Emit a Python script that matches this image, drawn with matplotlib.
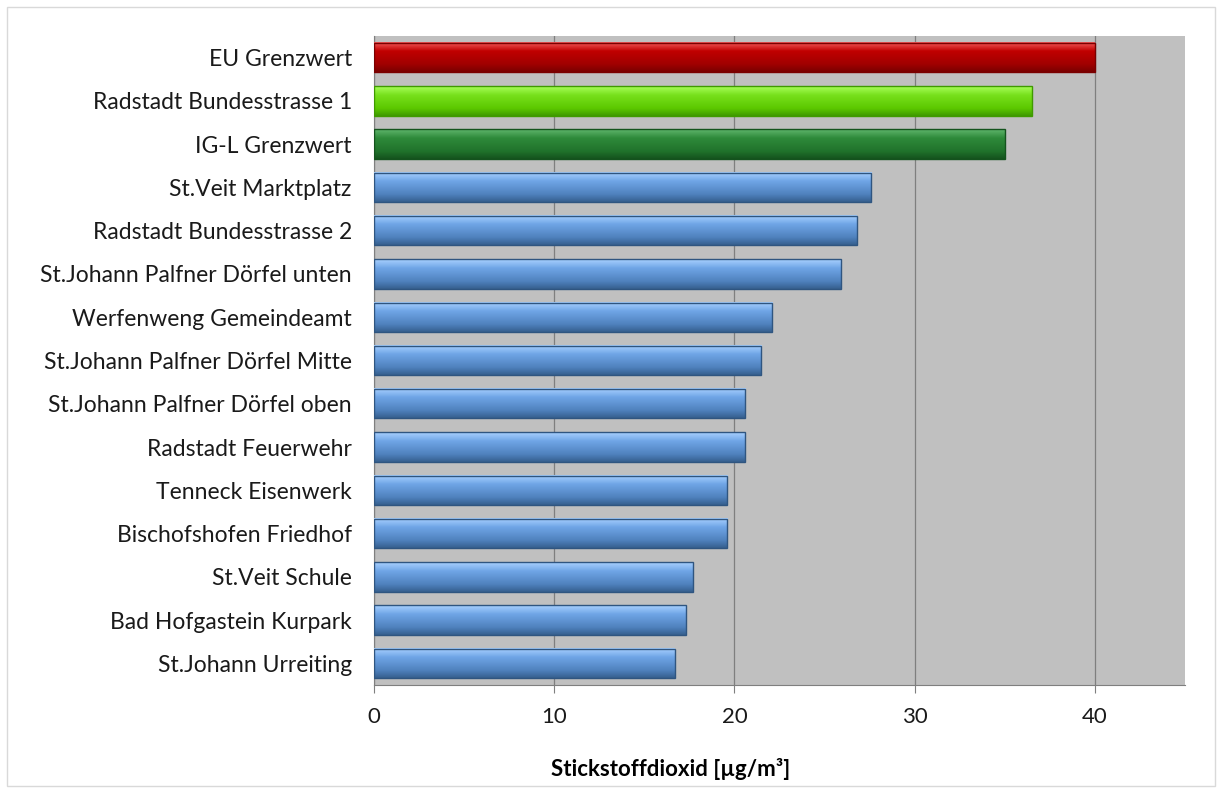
import numpy as np
import matplotlib.pyplot as plt
from matplotlib.colors import LinearSegmentedColormap
from matplotlib.patches import Rectangle

stations = [
    'EU Grenzwert', 'Radstadt Bundesstrasse 1', 'IG-L Grenzwert', 'St.Veit Marktplatz',
    'Radstadt Bundesstrasse 2', 'St.Johann Palfner Dörfel unten', 'Werfenweng Gemeindeamt',
    'St.Johann Palfner Dörfel Mitte', 'St.Johann Palfner Dörfel oben', 'Radstadt Feuerwehr',
    'Tenneck Eisenwerk', 'Bischofshofen Friedhof', 'St.Veit Schule', 'Bad Hofgastein Kurpark',
    'St.Johann Urreiting',
]
no2 = [40.0, 36.5, 35.0, 27.6, 26.8, 25.9, 22.1, 21.5, 20.6, 20.6, 19.6, 19.6, 17.7, 17.3, 16.7]
kinds = ['eu', 'station_hi', 'igl'] + ['station'] * 12

# light top edge, base, darker bottom
shades = {
    'eu': ['#f25a5a', '#c00000', '#a00000', '#7a0000'],
    'station_hi': ['#a8ff5a', '#77e01c', '#5cc800', '#3f9a00'],
    'igl': ['#5fb56c', '#2e8a3a', '#20722b', '#14531d'],
    'station': ['#a9d1ff', '#6fa5e6', '#4f81bd', '#36608f'],
}
edges = {'eu': '#7a0000', 'station_hi': '#3f9a00', 'igl': '#14531d', 'station': '#2f5580'}

plt.rcParams['font.family'] = ['Lato', 'DejaVu Sans']

fig = plt.figure(figsize=(12.25, 7.91), dpi=100)
ax = fig.add_axes([374 / 1225, 1 - 685 / 791, (1185 - 374) / 1225, (685 - 36) / 791])

ypos = np.arange(len(stations))
h = 0.68
ax.set_xlim(0, 45)
ax.set_ylim(len(stations) - 0.5, -0.5)
ax.set_facecolor('#c0c0c0')

grad = np.linspace(0, 1, 64).reshape(-1, 1)
for y, v, k in zip(ypos, no2, kinds):
    s = shades[k]
    cmap = LinearSegmentedColormap.from_list(k, [(0, s[0]), (0.3, s[1]), (0.75, s[2]), (1, s[3])])
    ax.imshow(grad, cmap=cmap, aspect='auto', extent=(0, v, y + h / 2, y - h / 2),
              origin='upper', zorder=3, interpolation='bilinear')
    ax.add_patch(Rectangle((0, y - h / 2), v, h, fill=False, edgecolor=edges[k], lw=1.0, zorder=4))

ax.set_xticks([0, 10, 20, 30, 40])
ax.xaxis.grid(True, color='#7f7f7f', lw=0.9)
ax.set_axisbelow(True)
ax.set_yticks(ypos)
ax.set_yticklabels(stations, fontsize=16.5, color='#1a1a1a')
ax.tick_params(axis='y', length=0, pad=16)
ax.tick_params(axis='x', length=6, color='#7f7f7f', labelsize=16, labelcolor='#1a1a1a', pad=10)
for side in ['top', 'right']:
    ax.spines[side].set_visible(False)
ax.spines['left'].set_color('#7f7f7f')
ax.spines['bottom'].set_color('#7f7f7f')
ax.set_xlabel('Stickstoffdioxid [µg/m³]', fontsize=16, fontweight='bold')
ax.xaxis.set_label_coords((671 - 374) / 811, (685 - 758) / 649)

# outer chart frame
fig.patches.append(Rectangle((7 / 1225, 5 / 791), 1208 / 1225, 779 / 791, transform=fig.transFigure,
                             fill=False, edgecolor='#d9d9d9', lw=1.0))

fig.savefig('out.png', dpi=100)
